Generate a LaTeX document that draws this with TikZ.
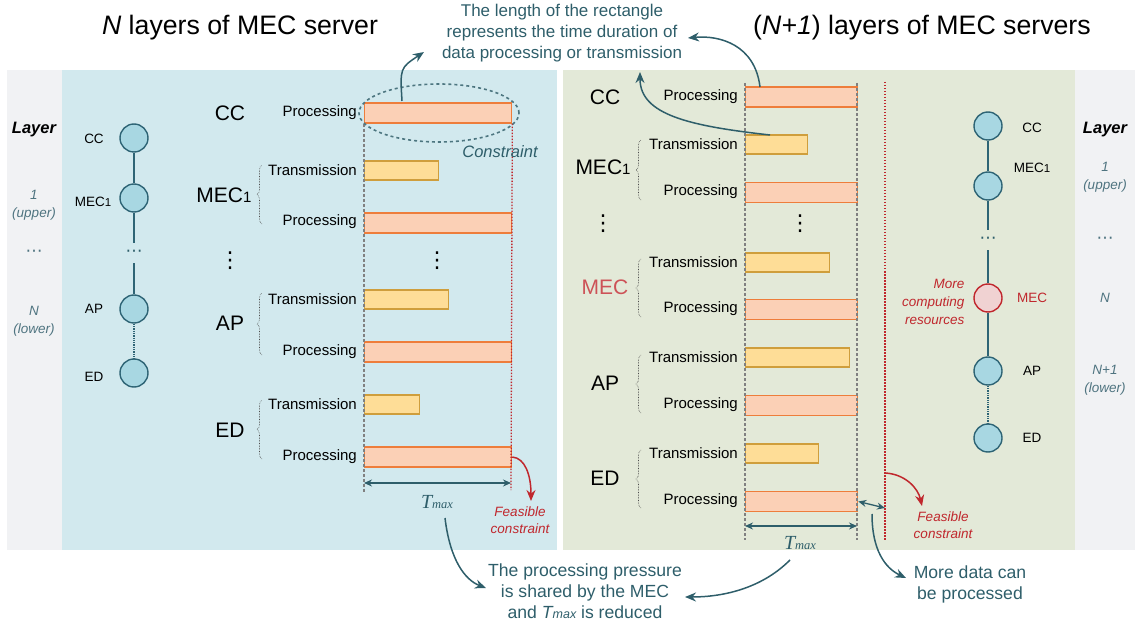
\documentclass[tikz,border=0pt]{standalone}
\usepackage{fontspec}
\setmainfont{Liberation Sans}
\newfontfamily\serifit{Liberation Serif}
\newfontfamily\symb{DejaVu Sans}
\usetikzlibrary{shapes.geometric, arrows.meta, decorations.pathreplacing}
\definecolor{bleufond}{HTML}{D2E9EE}
\definecolor{vertfond}{HTML}{E3E9D8}
\definecolor{grisfond}{HTML}{F1F2F4}
\definecolor{sarcelle}{HTML}{2E5E6A}
\definecolor{grisbleu}{HTML}{4F7480}
\definecolor{rouge}{HTML}{C0272D}
\definecolor{procfill}{HTML}{FBD0B6}
\definecolor{procdraw}{HTML}{EE7D3B}
\definecolor{transfill}{HTML}{FEDD97}
\definecolor{transdraw}{HTML}{CF9E3C}
\definecolor{cerclefill}{HTML}{A8D7E2}
\definecolor{cercledraw}{HTML}{2E6475}
\definecolor{rosefill}{HTML}{F0D2D2}
\begin{document}
\begin{tikzpicture}[x=1pt, y=-1pt]
\tikzset{noeud/.style={draw=cercledraw, fill=cerclefill, circle, minimum size=28pt, inner sep=0pt, line width=1.4pt},
  points/.style={inner sep=0pt, minimum height=20pt, text=sarcelle, font=\symb\fontsize{17}{17}\selectfont},
  vpoints/.style={inner sep=0pt, font=\symb\fontsize{22}{22}\selectfont},
  tige/.style={draw=cercledraw, line width=1.3pt},
  etiq/.style={font=\fontsize{13.5}{15}\selectfont},
  barproc/.style={draw=procdraw, fill=procfill, anchor=west, minimum height=20pt, inner sep=0pt, line width=1.3pt},
  bartrans/.style={draw=transdraw, fill=transfill, anchor=west, minimum height=19pt, inner sep=0pt, line width=1.3pt},
  petit/.style={font=\fontsize{15}{17}\selectfont, anchor=east, inner sep=0pt},
  grand/.style={font=\fontsize{21}{23}\selectfont, inner sep=0pt},
  couche/.style={font=\fontsize{13.5}{18}\selectfont\itshape, text=grisbleu, align=center},
  note/.style={font=\fontsize{17}{21}\selectfont, text=sarcelle, align=center},
  fleche/.style={draw=sarcelle, line width=1.5pt, -{Stealth[length=11pt, width=9pt]}},
  flecherouge/.style={draw=rouge, line width=1.5pt, -{Stealth[length=11pt, width=9pt]}},
  duree/.style={draw=sarcelle, line width=1.3pt, {Stealth[length=8pt, width=7pt]}-{Stealth[length=8pt, width=7pt]}},
  guide/.style={draw=gray, line width=1.5pt, dash pattern=on 3pt off 2pt},
  limite/.style={draw=rouge, line width=1.3pt, dash pattern=on 1.5pt off 1.5pt},
  accolade/.style={draw=black!70, line width=0.6pt, densely dotted, decorate, decoration={brace, amplitude=5pt}}}
\useasboundingbox (0,0) rectangle (1135,628);
% fonds
\fill[grisfond] (7,70) rectangle (62,550);
\fill[bleufond] (62,70) rectangle (557,550);
\fill[vertfond] (563,70) rectangle (1075,550);
\fill[grisfond] (1075,70) rectangle (1135,550);
% titres
\node[font=\fontsize{26.7}{30}\selectfont] (titre1) at (240,28) {\textit{N} layers of MEC server};
\node[font=\fontsize{26.7}{30}\selectfont] (titre2) at (922,28) {(\textit{N+1}) layers of MEC servers};
\node[note] (note1) at (562,33) {The length of the rectangle\\represents the time duration of\\data processing or transmission};
\node[note, font=\fontsize{17.6}{21}\selectfont] (note2) at (585,591) {The processing pressure\\is shared by the MEC\\and {\itshape T{\fontsize{12.5}{12}\selectfont max}} is reduced};
\node[note, font=\fontsize{17.6}{21}\selectfont] (note3) at (970,584) {More data can\\be processed};
% couches a gauche
\node[font=\fontsize{16.5}{18}\selectfont\bfseries\itshape] (L1) at (34,130) {Layer};
\node[couche] (L2) at (34,205) {1\\(upper)};
\node[points, text=grisbleu] (L3) at (34,253) {⋯};
\node[couche] (L4) at (34,321) {\textit{N}\\(lower)};
% arbre gauche
\node[noeud] (A1) at (134,138) {};
\node[noeud] (A2) at (134,198) {};
\node[points] (A3) at (134,253) {⋯};
\node[noeud] (A4) at (134,309) {};
\node[noeud] (A5) at (134,373) {};
\draw[tige] (A1) -- (A2);
\draw[tige] (A2) -- (A3);
\draw[tige] (A3) -- (A4);
\draw[tige, densely dotted] (A4) -- (A5);
\node[etiq] (a1) at (94,139) {CC};
\node[etiq] (a2) at (93,202) {MEC{\fontsize{11.5}{12}\selectfont 1}};
\node[etiq] (a4) at (94,309) {AP};
\node[etiq] (a5) at (94,377) {ED};
% barres gauche
\node[barproc, minimum width=147pt] (G1) at (364,113) {};
\node[bartrans, minimum width=74pt] (G2) at (364,170.5) {};
\node[barproc, minimum width=147pt] (G3) at (364,223) {};
\node[bartrans, minimum width=84pt] (G4) at (364,299.5) {};
\node[barproc, minimum width=147pt] (G5) at (364,352) {};
\node[bartrans, minimum width=55pt] (G6) at (364,404.5) {};
\node[barproc, minimum width=147pt] (G7) at (364,457) {};
\node[petit] at (357,113) {Processing};
\node[petit] at (357,170) {Transmission};
\node[petit] at (357,222) {Processing};
\node[petit] at (357,299) {Transmission};
\node[petit] at (357,352) {Processing};
\node[petit] at (357,404) {Transmission};
\node[petit] at (357,457) {Processing};
\node[grand] (g1) at (230,113) {CC};
\node[grand] (g2) at (224,195) {MEC{\fontsize{15}{15}\selectfont 1}};
\node[vpoints] (g3) at (230,261) {⋮};
\node[grand] (g4) at (230,323) {AP};
\node[grand] (g5) at (230,430) {ED};
\node[vpoints] (g6) at (437,261) {⋮};
\draw[accolade] (262,224) -- (262,165);
\draw[accolade] (262,355) -- (262,293);
\draw[accolade] (262,459) -- (262,400);
\draw[guide] (G1.south west) -- (364,492);
\draw[limite] (G1.south east) -- (511,490);
\draw[duree] (364,483) -- (511,483);
\node[text=sarcelle] (tmax1) at (437,502) {\serifit\itshape\fontsize{20}{20}\selectfont T{\fontsize{12.5}{12}\selectfont max}};
\node[draw=sarcelle!85, dashed, line width=1.6pt, ellipse, minimum width=160pt, minimum height=58pt] (E) at (439,113) {};
\node[text=sarcelle, font=\fontsize{16.5}{18}\selectfont\itshape] (contr) at (500,152) {Constraint};
\node[text=rouge, font=\fontsize{13.5}{17}\selectfont\itshape, align=center] (fc1) at (520,520) {Feasible\\constraint};
% arbre droite
\node[noeud] (B1) at (988,126) {};
\node[noeud] (B2) at (988,186) {};
\node[points] (B3) at (988,240) {⋯};
\node[noeud, draw=rouge, fill=rosefill] (B4) at (988,298) {};
\node[noeud] (B5) at (988,371) {};
\node[noeud] (B6) at (988,438) {};
\draw[tige] (B1) -- (B2);
\draw[tige] (B2) -- (B3);
\draw[tige] (B3) -- (B4);
\draw[tige] (B4) -- (B5);
\draw[tige, densely dotted] (B5) -- (B6);
\node[etiq] (b1) at (1032,128) {CC};
\node[etiq] (b2) at (1032,168) {MEC{\fontsize{11.5}{12}\selectfont 1}};
\node[etiq, text=rouge] (b4) at (1032,298) {MEC};
\node[etiq] (b5) at (1032,371) {AP};
\node[etiq] (b6) at (1032,438) {ED};
\node[text=rouge, font=\fontsize{13.5}{18}\selectfont\itshape, align=right, anchor=east] (plus) at (968,302) {More\\computing\\resources};
% couches a droite
\node[font=\fontsize{16.5}{18}\selectfont\bfseries\itshape] (R1) at (1105,130) {Layer};
\node[couche] (R2) at (1105,177) {1\\(upper)};
\node[points, text=grisbleu] (R3) at (1105,240) {⋯};
\node[couche] (R4) at (1105,298) {\textit{N}};
\node[couche] (R5) at (1105,380) {\textit{N}+1\\(lower)};
% barres droite
\node[barproc, minimum width=112pt] (D1) at (745,97) {};
\node[bartrans, minimum width=62pt] (D2) at (745,144.5) {};
\node[barproc, minimum width=112pt] (D3) at (745,192.5) {};
\node[bartrans, minimum width=84pt] (D4) at (745,262.5) {};
\node[barproc, minimum width=112pt] (D5) at (745,309.5) {};
\node[bartrans, minimum width=104pt] (D6) at (745,357.5) {};
\node[barproc, minimum width=112pt] (D7) at (745,405.5) {};
\node[bartrans, minimum width=73pt] (D8) at (745,453.5) {};
\node[barproc, minimum width=112pt] (D9) at (745,501.5) {};
\node[petit] at (738,97) {Processing};
\node[petit] at (738,144) {Transmission};
\node[petit] at (738,192) {Processing};
\node[petit] at (738,262) {Transmission};
\node[petit] at (738,309) {Processing};
\node[petit] at (738,357) {Transmission};
\node[petit] at (738,405) {Processing};
\node[petit] at (738,453) {Transmission};
\node[petit] at (738,501) {Processing};
\node[grand] (d1) at (605,97) {CC};
\node[grand] (d2) at (603,167) {MEC{\fontsize{15}{15}\selectfont 1}};
\node[vpoints] (d3) at (603,224) {⋮};
\node[grand, text=rouge!80] (d4) at (605,287) {MEC};
\node[grand] (d5) at (605,383) {AP};
\node[grand] (d6) at (605,478) {ED};
\node[vpoints] (d7) at (800,224) {⋮};
\draw[accolade] (641,200) -- (641,140);
\draw[accolade] (641,317) -- (641,259);
\draw[accolade] (641,413) -- (641,355);
\draw[accolade] (641,508) -- (641,450);
\draw[guide] (745,83) -- (745,540);
\draw[guide] (857,83) -- (857,540);
\draw[limite] (885,82) -- (885,540);
\draw[duree] (745,526) -- (857,526);
\draw[duree] (D9.east) -- (885,508);
\node[text=sarcelle] (tmax2) at (800,543) {\serifit\itshape\fontsize{20}{20}\selectfont T{\fontsize{12.5}{12}\selectfont max}};
\node[text=rouge, font=\fontsize{13.5}{17}\selectfont\itshape, align=center] (fc2) at (943,525) {Feasible\\constraint};
% fleches
\coordinate (c1) at (424,52);
\coordinate (c2) at (688,38);
\coordinate (c3) at (640,72);
\draw[fleche] (402,101) .. controls (400,68) .. (c1);
\draw[fleche] (760,87) .. controls (755,45) and (720,35) .. (c2);
\draw[fleche] (770,135) .. controls (690,126) and (640,115) .. (c3);
\draw[fleche] (445,518) .. controls (450,560) and (465,580) .. (486,588);
\draw[fleche] (790,560) .. controls (760,590) and (720,597) .. (685,597);
\draw[fleche] (872,514) .. controls (872,550) and (885,568) .. (906,578);
\draw[flecherouge] (G7.east) .. controls (525,458) and (531,475) .. (531,501);
\draw[flecherouge] (885,473) .. controls (905,474) and (918,488) .. (922,506);
\end{tikzpicture}
\end{document}
